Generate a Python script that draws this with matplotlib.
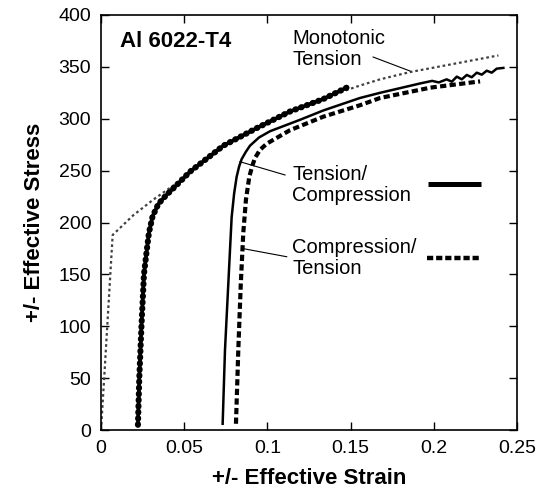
import matplotlib
matplotlib.use("Agg")
import matplotlib.pyplot as plt

plt.rcParams['font.family'] = ['Liberation Sans', 'DejaVu Sans']

# monotonic tension curve
mono_strain = [0, 0.0019, 0.007, 0.0194, 0.0314, 0.0455, 0.0535, 0.0735, 0.0936,
               0.1136, 0.1336, 0.1556, 0.1677, 0.1857, 0.2388]
mono_stress = [0, 50, 188, 207, 222, 238, 249, 273, 291, 307, 320, 332, 338, 345, 361]

# heavy beaded curve (prestrain reload)
bead_strain = [0.0222, 0.0230, 0.0243, 0.0258, 0.0274, 0.0288, 0.0310, 0.0345, 0.0390,
               0.0435, 0.0535, 0.0735, 0.0936, 0.1136, 0.1336, 0.1476]
bead_stress = [5, 50, 100, 150, 172, 190, 206, 218, 226, 233, 249, 274, 291, 307, 319, 330]

# tension / compression (solid)
tc_strain = [0.0731, 0.0745, 0.0765, 0.0785, 0.0800, 0.0815, 0.0830, 0.0845, 0.0870,
             0.0895, 0.0950, 0.1016, 0.1196, 0.1336, 0.1556, 0.1677, 0.1917, 0.1990,
             0.2030, 0.2077, 0.2108, 0.2138, 0.2168, 0.2198, 0.2228, 0.2258, 0.2288,
             0.2318, 0.2348, 0.2378, 0.2418]
tc_stress = [6, 77, 141, 205, 228, 244, 254, 261, 268, 274, 282, 288, 299, 308, 320, 325,
             334, 336.5, 335, 338, 335.7, 340.6, 338, 342.2, 340, 344.4, 342.5, 346.3,
             344.4, 348.3, 349]

# compression / tension (heavy dashed)
ct_strain = [0.0811, 0.0825, 0.0840, 0.0855, 0.0871, 0.0891, 0.0910, 0.0925, 0.0955,
             0.0996, 0.1050, 0.1136, 0.1336, 0.1556, 0.1677, 0.198, 0.2278]
ct_stress = [6, 77, 141, 190, 222, 244, 255, 262, 270, 276, 281, 289, 302, 313, 320, 330, 336]

x_ticks = [0, 0.05, 0.1, 0.15, 0.2, 0.25]
x_labels = ['0', '0.05', '0.1', '0.15', '0.2', '0.25']
y_ticks = [0, 50, 100, 150, 200, 250, 300, 350, 400]

ct_dash = (0, (1.5, 0.8))

fig = plt.figure(figsize=(5.37, 4.95), dpi=100)
ax = fig.add_axes([0.1881, 0.1313, 0.7747, 0.8384])

ax.plot(mono_strain, mono_stress, color='#404040', lw=1.6, ls=(0, (1.2, 1.3)))
ax.plot(bead_strain, bead_stress, color='black', lw=4.4, ls=(0, (0.1, 0.9)),
        dash_capstyle='round', solid_capstyle='round')
ax.plot(bead_strain, bead_stress, color='black', lw=2.6)
ax.plot(tc_strain, tc_stress, color='black', lw=1.8)
ax.plot(ct_strain, ct_stress, color='black', lw=3.0, ls=ct_dash)

ax.set_xlim(0, 0.25)
ax.set_ylim(0, 400)
ax.set_xticks(x_ticks)
ax.set_xticklabels(x_labels)
ax.set_yticks(y_ticks)
ax.tick_params(direction='in', length=5.5, width=1.0, top=True, right=True,
               labelsize=14, pad=7)
for s in ax.spines.values():
    s.set_linewidth(1.2)

ax.set_xlabel('+/- Effective Strain', fontsize=16, fontweight='bold', labelpad=8)
ax.set_ylabel('+/- Effective Stress', fontsize=16, fontweight='bold', labelpad=10)

# annotations
ax.text(0.0114, 374, 'Al 6022-T4', fontsize=16, fontweight='bold', va='center')
ax.text(0.1148, 367, 'Monotonic\nTension', fontsize=14.5, va='center', linespacing=1.15)
ax.text(0.1148, 236, 'Tension/\nCompression', fontsize=14.5, va='center', linespacing=1.15)
ax.text(0.1148, 166, 'Compression/\nTension', fontsize=14.5, va='center', linespacing=1.15)

ax.plot([0.1635, 0.1857], [359.5, 346], color='black', lw=0.8)
ax.plot([0.1106, 0.0835], [245.8, 258.6], color='black', lw=0.8)
ax.plot([0.1116, 0.0845], [167, 175.1], color='black', lw=0.8)

# key samples
ax.plot([0.1965, 0.2284], [237, 237], color='black', lw=3.6, solid_capstyle='butt')
ax.plot([0.1959, 0.2272], [165.8, 165.8], color='black', lw=3.2, ls=(0, (1.4, 0.65)))

fig.savefig('out.png', dpi=100)
